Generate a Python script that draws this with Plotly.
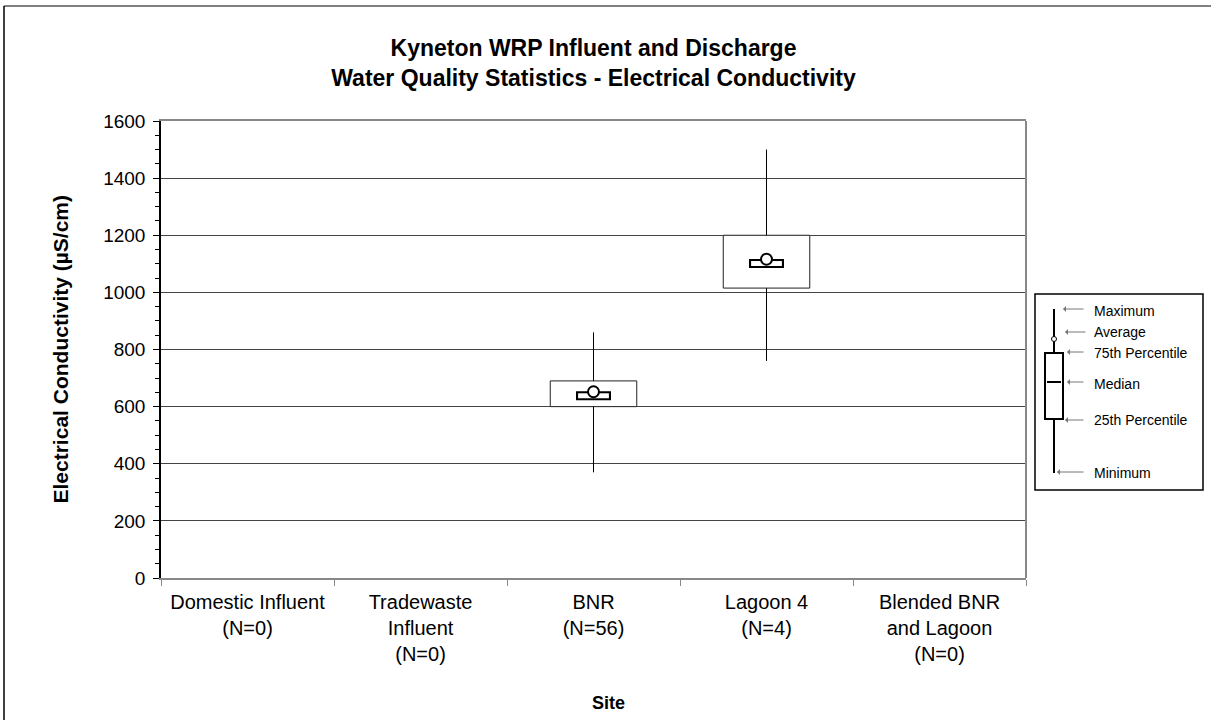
import plotly.graph_objects as go

# ---------------- data ----------------
sites = ["Domestic Influent<br>(N=0)", "Tradewaste<br>Influent<br>(N=0)", "BNR<br>(N=56)",
         "Lagoon 4<br>(N=4)", "Blended BNR<br>and Lagoon<br>(N=0)"]
minimum = [None, None, 370, 760, None]
q25 = [None, None, 600, 1015, None]
median = [None, None, 638, 1101, None]
average = [None, None, 652, 1116, None]
q75 = [None, None, 690, 1200, None]
maximum = [None, None, 860, 1500, None]

legend_labels = ["Maximum", "Average", "75th Percentile", "Median", "25th Percentile", "Minimum"]

FONT = "Liberation Sans, Arial, sans-serif"

W, H = 1211, 720
L, R, T, B = 161, 185, 121, 142
PW, PH = W - L - R, H - T - B


def px(xp):
    return (xp - L) / PW


def py(yp):
    return (H - B - yp) / PH


fig = go.Figure()

for i, s in enumerate(sites):
    if minimum[i] is None:
        continue
    # whiskers
    fig.add_trace(go.Scatter(
        x=[s, s, None, s, s], y=[minimum[i], q25[i], None, q75[i], maximum[i]],
        mode="lines", line=dict(color="black", width=1), showlegend=False, hoverinfo="skip"))
    # inter-quartile box
    fig.add_trace(go.Bar(
        x=[s], y=[q75[i] - q25[i]], base=[q25[i]], width=0.5,
        marker=dict(color="white", line=dict(color="#222222", width=1)),
        showlegend=False, hoverinfo="skip"))

# median markers (outlined bars)
xs = [s for s, m in zip(sites, median) if m is not None]
med = [m for m in median if m is not None]
avg = [a for a in average if a is not None]
fig.add_trace(go.Scatter(x=xs, y=med, mode="markers",
                         marker=dict(symbol="line-ew", size=25, color="black",
                                     line=dict(color="black", width=9)),
                         showlegend=False, hoverinfo="skip"))
fig.add_trace(go.Scatter(x=xs, y=med, mode="markers",
                         marker=dict(symbol="line-ew", size=22, color="white",
                                     line=dict(color="white", width=5)),
                         showlegend=False, hoverinfo="skip"))
# average markers
fig.add_trace(go.Scatter(x=xs, y=avg, mode="markers",
                         marker=dict(symbol="circle", size=11, color="white",
                                     line=dict(color="black", width=2)),
                         showlegend=False, hoverinfo="skip"))

shapes = []
annotations = []

# outer chart border (top grey, left black)
shapes.append(dict(type="line", xref="paper", yref="paper", x0=px(4), x1=px(1215), y0=py(6), y1=py(6),
                   line=dict(color="#808080", width=2)))
shapes.append(dict(type="line", xref="paper", yref="paper", x0=px(4), x1=px(4), y0=py(6), y1=py(725),
                   line=dict(color="black", width=1.5)))
# right plot border
shapes.append(dict(type="line", xref="paper", yref="paper", x0=1, x1=1, y0=0, y1=1,
                   line=dict(color="#888888", width=2)))

# key (explanatory legend)
shapes.append(dict(type="rect", xref="paper", yref="paper", x0=px(1035), x1=px(1203), y0=py(490), y1=py(294),
                   line=dict(color="black", width=1.5), fillcolor="white"))
shapes.append(dict(type="line", xref="paper", yref="paper", x0=px(1054), x1=px(1054), y0=py(309), y1=py(353),
                   line=dict(color="black", width=2)))
shapes.append(dict(type="line", xref="paper", yref="paper", x0=px(1054), x1=px(1054), y0=py(419), y1=py(473),
                   line=dict(color="black", width=2)))
shapes.append(dict(type="rect", xref="paper", yref="paper", x0=px(1045), x1=px(1063), y0=py(419), y1=py(353),
                   line=dict(color="black", width=2), fillcolor="white"))
shapes.append(dict(type="line", xref="paper", yref="paper", x0=px(1047), x1=px(1061), y0=py(382), y1=py(382),
                   line=dict(color="black", width=2)))
shapes.append(dict(type="circle", xref="paper", yref="paper", x0=px(1051.5), x1=px(1056.5), y0=py(341.5),
                   y1=py(336.5), line=dict(color="black", width=1), fillcolor="white"))

arrow_head = [1063, 1065, 1067, 1067, 1065, 1057]
arrow_tail = [1085, 1087, 1085, 1085, 1085, 1085]
arrow_y = [309, 332, 352, 382, 420, 472]
text_y = [311, 332, 353, 384, 420, 473]
for lab, hx, tx, ay, ty in zip(legend_labels, arrow_head, arrow_tail, arrow_y, text_y):
    annotations.append(dict(xref="paper", yref="paper", x=px(hx), y=py(ay), text="",
                            showarrow=True, ax=tx - hx, ay=0, arrowhead=1, arrowsize=1,
                            arrowwidth=1, arrowcolor="#777777", standoff=0))
    annotations.append(dict(xref="paper", yref="paper", x=px(1092), y=py(ty), text=lab,
                            showarrow=False, xanchor="left", yanchor="middle",
                            font=dict(family=FONT, size=14, color="black")))

# axis titles
annotations.append(dict(xref="paper", yref="paper", x=px(608), y=py(703), text="<b>Site</b>",
                        showarrow=False, xanchor="center", yanchor="middle",
                        font=dict(family=FONT, size=18, color="black")))
annotations.append(dict(xref="paper", yref="paper", x=px(60), y=0.5,
                        text="<b>Electrical Conductivity (µS/cm)</b>", textangle=-90,
                        showarrow=False, xanchor="center", yanchor="middle",
                        font=dict(family=FONT, size=21, color="black")))

fig.update_layout(
    width=W, height=H,
    margin=dict(l=L, r=R, t=T, b=B, autoexpand=False),
    paper_bgcolor="white", plot_bgcolor="white",
    title=dict(text="<b>Kyneton WRP Influent and Discharge<br>Water Quality Statistics - Electrical Conductivity</b>",
               xref="paper", x=0.5, xanchor="center", yref="container", y=1 - 56 / H, yanchor="middle",
               font=dict(family=FONT, size=23, color="black")),
    font=dict(family=FONT, color="black"),
    showlegend=False,
    barmode="overlay",
    shapes=shapes,
    annotations=annotations,
)

fig.update_xaxes(
    type="category", categoryorder="array", categoryarray=sites, range=[-0.5, 4.5],
    showline=True, linecolor="#888888", linewidth=2, mirror=True,
    ticks="outside", tickson="boundaries", ticklen=6, tickcolor="#888888", tickwidth=1,
    ticklabelstandoff=5,
    tickfont=dict(family=FONT, size=20, color="black"),
    showgrid=False, zeroline=False,
)
fig.update_yaxes(
    range=[0, 1600], dtick=200, tick0=0,
    showline=True, linecolor="black", linewidth=1.5,
    ticks="outside", ticklen=6, tickcolor="black", tickwidth=1,
    ticklabelstandoff=4,
    minor=dict(dtick=50, ticks="outside", ticklen=4, tickcolor="black", showgrid=False),
    tickfont=dict(family=FONT, size=19, color="black"),
    showgrid=True, gridcolor="#444444", gridwidth=1, zeroline=False,
)

fig.write_html("out.html", config={"displayModeBar": False},
               post_script="document.body.style.margin='0';document.body.style.overflow='hidden';")
